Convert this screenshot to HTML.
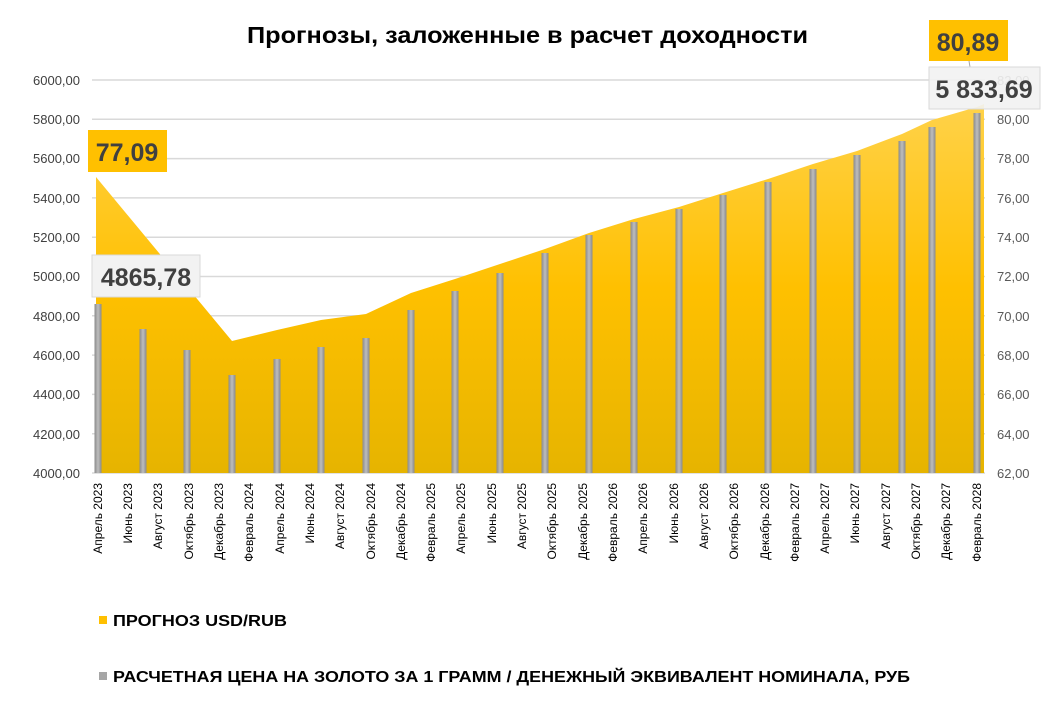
<!DOCTYPE html>
<html><head><meta charset="utf-8"><style>
body{margin:0;background:#fff;}
svg text{font-family:"Liberation Sans","DejaVu Sans",sans-serif;}
</style></head><body>
<svg width="1054" height="711" viewBox="0 0 1054 711" xmlns="http://www.w3.org/2000/svg">
<defs>
<linearGradient id="ag" x1="0" y1="0" x2="0" y2="1">
<stop offset="0" stop-color="#FFD24A"/><stop offset="0.5" stop-color="#FFC000"/><stop offset="1" stop-color="#E6B400"/>
</linearGradient>
<linearGradient id="bg" x1="0" y1="0" x2="1" y2="0">
<stop offset="0" stop-color="#8a8a8a"/><stop offset="0.5" stop-color="#bdbdbd"/><stop offset="1" stop-color="#8a8a8a"/>
</linearGradient>
</defs>
<text x="247" y="43" textLength="561" lengthAdjust="spacingAndGlyphs" font-size="23" font-weight="bold" fill="#000">Прогнозы, заложенные в расчет доходности</text>
<g stroke="#d9d9d9" stroke-width="1.5">
<line x1="92" y1="80" x2="985" y2="80"/><line x1="92" y1="119.3" x2="985" y2="119.3"/><line x1="92" y1="158.6" x2="985" y2="158.6"/><line x1="92" y1="197.9" x2="985" y2="197.9"/><line x1="92" y1="237.2" x2="985" y2="237.2"/><line x1="92" y1="276.5" x2="985" y2="276.5"/><line x1="92" y1="315.8" x2="985" y2="315.8"/><line x1="92" y1="355.1" x2="985" y2="355.1"/><line x1="92" y1="394.4" x2="985" y2="394.4"/><line x1="92" y1="433.7" x2="985" y2="433.7"/><line x1="92" y1="473" x2="985" y2="473"/>
</g>
<polygon fill="url(#ag)" points="96,473 96,177 232,341 277,330 321,320 366,314 411,293 455,279 500,264 545,249 589,233 634,219 679,207 723,193 768,179 813,164 857,151 902,134 932,120 977,107 984,104 984,473"/>
<g fill="url(#bg)">
<rect x="94.5" y="304" width="7" height="169"/><rect x="139.5" y="329" width="7" height="144"/><rect x="183.5" y="350" width="7" height="123"/><rect x="228.5" y="375" width="7" height="98"/><rect x="273.5" y="359" width="7" height="114"/><rect x="317.5" y="347" width="7" height="126"/><rect x="362.5" y="338" width="7" height="135"/><rect x="407.5" y="310" width="7" height="163"/><rect x="451.5" y="291" width="7" height="182"/><rect x="496.5" y="273" width="7" height="200"/><rect x="541.5" y="253" width="7" height="220"/><rect x="585.5" y="235" width="7" height="238"/><rect x="630.5" y="222" width="7" height="251"/><rect x="675.5" y="209" width="7" height="264"/><rect x="719.5" y="195" width="7" height="278"/><rect x="764.5" y="182" width="7" height="291"/><rect x="809.5" y="169" width="7" height="304"/><rect x="853.5" y="155" width="7" height="318"/><rect x="898.5" y="141" width="7" height="332"/><rect x="928.5" y="127" width="7" height="346"/><rect x="973.5" y="113" width="7" height="360"/>
</g>
<g font-size="13" fill="#404040" text-anchor="end">
<text x="80" y="85">6000,00</text><text x="80" y="124">5800,00</text><text x="80" y="163">5600,00</text><text x="80" y="203">5400,00</text><text x="80" y="242">5200,00</text><text x="80" y="281">5000,00</text><text x="80" y="321">4800,00</text><text x="80" y="360">4600,00</text><text x="80" y="399">4400,00</text><text x="80" y="439">4200,00</text><text x="80" y="478">4000,00</text>
</g>
<g font-size="13" fill="#595959">
<text x="997" y="85">82,00</text><text x="997" y="124">80,00</text><text x="997" y="163">78,00</text><text x="997" y="203">76,00</text><text x="997" y="242">74,00</text><text x="997" y="281">72,00</text><text x="997" y="321">70,00</text><text x="997" y="360">68,00</text><text x="997" y="399">66,00</text><text x="997" y="439">64,00</text><text x="997" y="478">62,00</text>
</g>
<g font-size="12" fill="#000" text-anchor="end">
<text transform="translate(102,483) rotate(-90)">Апрель 2023</text>
<text transform="translate(132,483) rotate(-90)">Июнь 2023</text>
<text transform="translate(162,483) rotate(-90)">Август 2023</text>
<text transform="translate(193,483) rotate(-90)">Октябрь 2023</text>
<text transform="translate(223,483) rotate(-90)">Декабрь 2023</text>
<text transform="translate(253,483) rotate(-90)">Февраль 2024</text>
<text transform="translate(284,483) rotate(-90)">Апрель 2024</text>
<text transform="translate(314,483) rotate(-90)">Июнь 2024</text>
<text transform="translate(344,483) rotate(-90)">Август 2024</text>
<text transform="translate(375,483) rotate(-90)">Октябрь 2024</text>
<text transform="translate(405,483) rotate(-90)">Декабрь 2024</text>
<text transform="translate(435,483) rotate(-90)">Февраль 2025</text>
<text transform="translate(465,483) rotate(-90)">Апрель 2025</text>
<text transform="translate(496,483) rotate(-90)">Июнь 2025</text>
<text transform="translate(526,483) rotate(-90)">Август 2025</text>
<text transform="translate(556,483) rotate(-90)">Октябрь 2025</text>
<text transform="translate(587,483) rotate(-90)">Декабрь 2025</text>
<text transform="translate(617,483) rotate(-90)">Февраль 2026</text>
<text transform="translate(647,483) rotate(-90)">Апрель 2026</text>
<text transform="translate(678,483) rotate(-90)">Июнь 2026</text>
<text transform="translate(708,483) rotate(-90)">Август 2026</text>
<text transform="translate(738,483) rotate(-90)">Октябрь 2026</text>
<text transform="translate(769,483) rotate(-90)">Декабрь 2026</text>
<text transform="translate(799,483) rotate(-90)">Февраль 2027</text>
<text transform="translate(829,483) rotate(-90)">Апрель 2027</text>
<text transform="translate(859,483) rotate(-90)">Июнь 2027</text>
<text transform="translate(890,483) rotate(-90)">Август 2027</text>
<text transform="translate(920,483) rotate(-90)">Октябрь 2027</text>
<text transform="translate(950,483) rotate(-90)">Декабрь 2027</text>
<text transform="translate(981,483) rotate(-90)">Февраль 2028</text>
</g>
<rect x="88" y="130" width="79" height="42" fill="#FFC000"/>
<text x="127" y="161" text-anchor="middle" font-size="25" font-weight="bold" fill="#404040">77,09</text>
<rect x="92" y="255" width="108" height="42" fill="#f2f2f2" stroke="#d9d9d9"/>
<text x="146" y="286" text-anchor="middle" font-size="25" font-weight="bold" fill="#404040">4865,78</text>
<line x1="969" y1="61" x2="970" y2="67" stroke="#a6a6a6"/>
<rect x="929" y="20" width="79" height="41" fill="#FFC000"/>
<text x="968" y="51" text-anchor="middle" font-size="25" font-weight="bold" fill="#404040">80,89</text>
<rect x="929" y="67" width="111" height="42" fill="#f2f2f2" stroke="#d9d9d9" fill-opacity="0.9"/>
<text x="984" y="98" text-anchor="middle" font-size="25" font-weight="bold" fill="#404040">5 833,69</text>
<rect x="99" y="616" width="8" height="8" fill="#FFC000"/>
<text x="113" y="626" textLength="174" lengthAdjust="spacingAndGlyphs" font-size="16" font-weight="bold" fill="#000">ПРОГНОЗ USD/RUB</text>
<rect x="99" y="672" width="8" height="8" fill="#a6a6a6"/>
<text x="113" y="682" textLength="797" lengthAdjust="spacingAndGlyphs" font-size="16" font-weight="bold" fill="#000">РАСЧЕТНАЯ ЦЕНА НА ЗОЛОТО ЗА 1 ГРАММ / ДЕНЕЖНЫЙ ЭКВИВАЛЕНТ НОМИНАЛА, РУБ</text>
</svg>
</body></html>
